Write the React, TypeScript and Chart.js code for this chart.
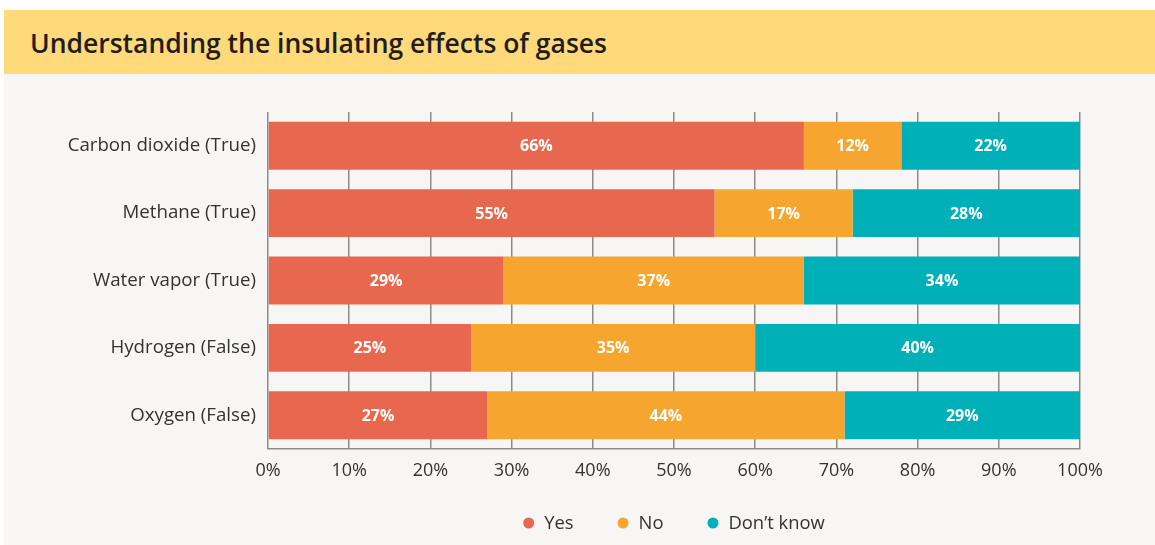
import React, { useEffect, useRef } from "react";
import { Chart, registerables } from "chart.js";

Chart.register(...registerables);

const title = "Understanding the insulating effects of gases";
const categories = [
  "Carbon dioxide (True)",
  "Methane (True)",
  "Water vapor (True)",
  "Hydrogen (False)",
  "Oxygen (False)",
];
const yesValues = [66, 55, 29, 25, 27];
const noValues = [12, 17, 37, 35, 44];
const dontKnowValues = [22, 28, 34, 40, 29];
const seriesNames = ["Yes", "No", "Don\u2019t know"];
const seriesColors = ["#E8684F", "#F6A62E", "#00B0B9"];
const xTicks = [0, 10, 20, 30, 40, 50, 60, 70, 80, 90, 100];

const FONT = "'Open Sans', 'Noto Sans', sans-serif";

const barLabels = {
  id: "barLabels",
  afterDatasetsDraw(chart: any) {
    const ctx = chart.ctx;
    ctx.save();
    ctx.fillStyle = "#ffffff";
    ctx.font = `bold 16px ${FONT}`;
    ctx.textAlign = "center";
    ctx.textBaseline = "middle";
    chart.data.datasets.forEach((ds: any, i: number) => {
      const meta = chart.getDatasetMeta(i);
      meta.data.forEach((bar: any, j: number) => {
        const v = ds.data[j];
        const x = (bar.x + bar.base) / 2;
        ctx.fillText(`${v}%`, x, bar.y + 1);
      });
    });
    ctx.restore();
  },
};

// Legend centred under the plot area, drawn from the chart's datasets
const centeredLegend = {
  id: "centeredLegend",
  afterDraw(chart: any) {
    const ctx = chart.ctx;
    const area = chart.chartArea;
    const r = 5.5;
    const dotToText = 15.5;
    const spacing = 44;
    ctx.save();
    ctx.font = `18.4px ${FONT}`;
    const items = chart.data.datasets.map((ds: any) => ({
      text: ds.label,
      color: ds.backgroundColor,
      w: ctx.measureText(ds.label).width,
    }));
    const total =
      items.reduce((s: number, it: any) => s + r + dotToText + it.w, 0) +
      spacing * (items.length - 1);
    let x = (area.left + area.right) / 2 - total / 2;
    const y = chart.height - 22;
    ctx.textBaseline = "middle";
    ctx.textAlign = "left";
    items.forEach((it: any) => {
      ctx.fillStyle = it.color;
      ctx.beginPath();
      ctx.arc(x + r, y, r, 0, Math.PI * 2);
      ctx.fill();
      ctx.fillStyle = "#333333";
      ctx.fillText(it.text, x + r + dotToText, y + 1);
      x += r + dotToText + it.w + spacing;
    });
    ctx.restore();
  },
};

export default function App() {
  const ref = useRef<HTMLCanvasElement>(null);
  useEffect(() => {
    if (!ref.current) return;
    const chart = new Chart(ref.current, {
      type: "bar",
      data: {
        labels: categories,
        datasets: [yesValues, noValues, dontKnowValues].map((d, i) => ({
          label: seriesNames[i],
          data: d,
          backgroundColor: seriesColors[i],
          borderWidth: 0,
          barPercentage: 0.71,
          categoryPercentage: 1,
        })),
      },
      options: {
        indexAxis: "y",
        animation: false,
        responsive: false,
        maintainAspectRatio: false,
        layout: { padding: { top: 38, right: 75, bottom: 56, left: 0 } },
        scales: {
          x: {
            stacked: true,
            min: 0,
            max: 100,
            afterBuildTicks: (scale: any) => {
              scale.ticks = xTicks.map((v) => ({ value: v }));
            },
            afterFit: (scale: any) => {
              scale.height = 40;
            },
            grid: {
              color: "#8c8c8c",
              lineWidth: 1.5,
              drawTicks: false,
            },
            border: { display: true, color: "#8c8c8c", width: 1.5 },
            ticks: {
              padding: 11,
              color: "#333333",
              font: { family: FONT, size: 18 },
              callback: (v: any) => `${v}%`,
            },
          },
          y: {
            stacked: true,
            afterFit: (scale: any) => {
              scale.width = 264;
            },
            grid: { display: false, drawTicks: false },
            border: { display: false },
            ticks: {
              padding: 12,
              color: "#333333",
              font: { family: FONT, size: 18.7 },
            },
          },
        },
        plugins: {
          tooltip: { enabled: false },
          legend: { display: false },
        },
      },
      plugins: [barLabels, centeredLegend],
    } as any);
    return () => chart.destroy();
  }, []);

  return (
    <div
      style={{
        position: "fixed",
        left: 0,
        top: 0,
        width: 1155,
        height: 545,
        background: "#ffffff",
        overflow: "hidden",
      }}
    >
      <div
        style={{
          position: "absolute",
          left: 4,
          top: 10,
          width: 1151,
          height: 64,
          background: "#FFD97A",
        }}
      >
        <div
          style={{
            position: "absolute",
            left: 26,
            top: 1,
            height: 64,
            lineHeight: "64px",
            fontFamily: FONT,
            fontWeight: 600,
            fontSize: 26.5,
            color: "#1e1e1e",
            whiteSpace: "nowrap",
          }}
        >
          {title}
        </div>
      </div>
      <div
        style={{
          position: "absolute",
          left: 4,
          top: 74,
          width: 1151,
          height: 471,
          background: "#F7F6F4",
        }}
      >
        <canvas ref={ref} width={1151} height={471} style={{ display: "block" }} />
      </div>
    </div>
  );
}
